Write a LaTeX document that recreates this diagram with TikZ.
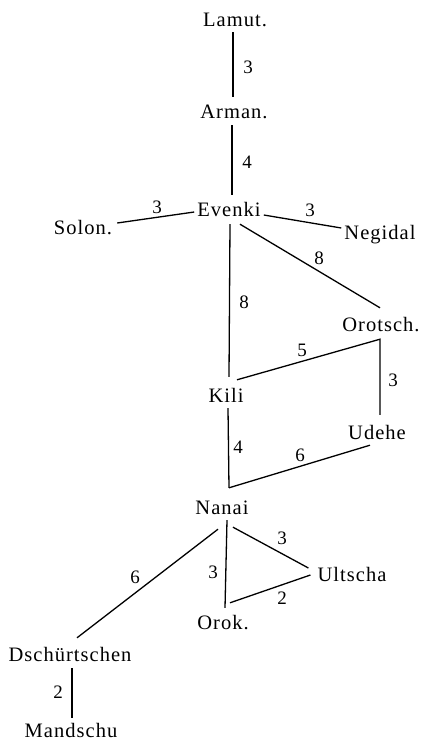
\documentclass[tikz,border=0pt]{standalone}
\usepackage{fontspec}
\setmainfont{Liberation Serif}[LetterSpace=5.0]
\begin{document}
\begin{tikzpicture}[x=1pt,y=-1pt,
  lang/.style={anchor=base,inner xsep=3pt,inner ysep=3pt,text height=14pt,text depth=0pt,font=\fontsize{20.5}{24}\selectfont},
  num/.style={inner sep=0pt,font=\fontsize{19}{22}\selectfont},
  edge/.style={line width=1.3pt,black}]
\useasboundingbox (0,0) rectangle (422,742);
% language nodes
\node[lang] (lamut) at (235,26) {Lamut.};
\node[lang] (arman) at (234,118) {Arman.};
\node[lang] (evenki) at (229,216) {Evenki};
\node[lang] (solon) at (83,234) {Solon.};
\node[lang] (negidal) at (380,239) {Negidal};
\node[lang] (orot) at (381,331) {Orotsch.};
\node[lang] (kili) at (226,402) {Kili};
\node[lang] (udehe) at (377,439) {Udehe};
\node[lang] (nanai) at (222,514) {Nanai};
\node[lang] (ultscha) at (352,581) {Ultscha};
\node[lang] (orok) at (223,629) {Orok.};
\node[lang] (dsch) at (70,661) {Dschürtschen};
\node[lang] (mand) at (71,737) {Mandschu};
% junction points
\coordinate (oc) at ([xshift=-1pt,yshift=-5pt]orot.south);
\coordinate (nc) at ([xshift=7pt,yshift=9pt]nanai.north);
% connectors
\draw[edge] ([xshift=-2pt,yshift=-3pt]lamut.south) -- ([xshift=-1pt,yshift=4pt]arman.north);
\draw[edge] ([xshift=-2pt,yshift=-4pt]arman.south) -- ([xshift=3pt,yshift=4pt]evenki.north);
\draw[edge] ([xshift=2pt,yshift=4pt]solon.east) -- ([yshift=-3pt]evenki.west);
\draw[edge] ([yshift=-6pt]evenki.east) -- ([yshift=4pt]negidal.west);
\draw[edge] ([xshift=11pt,yshift=-5pt]evenki.south) -- ([xshift=-1pt,yshift=6pt]orot.north);
\draw[edge] ([xshift=1pt,yshift=-5pt]evenki.south) -- ([xshift=3pt,yshift=8pt]kili.north);
\draw[edge] ([xshift=11pt,yshift=5pt]kili.north) -- (oc) -- ([xshift=3pt,yshift=7pt]udehe.north);
\draw[edge] ([xshift=2pt,yshift=-3pt]kili.south) -- (nc);
\draw[edge] ([xshift=-7pt,yshift=-3pt]udehe.south) -- (nc);
\draw[edge] ([xshift=5pt,yshift=-3pt]nanai.south) -- ([xshift=2pt,yshift=4pt]orok.north);
\draw[edge] ([xshift=11pt,yshift=-10pt]nanai.south) -- ([xshift=-6pt,yshift=6pt]ultscha.west);
\draw[edge] ([xshift=-4pt,yshift=-12pt]nanai.south) -- ([xshift=7pt,yshift=6pt]dsch.north);
\draw[edge] ([xshift=7pt,yshift=9pt]orok.north) -- ([xshift=-4pt,yshift=-1pt]ultscha.west);
\draw[edge] ([xshift=2pt,yshift=-4pt]dsch.south) -- ([xshift=1pt,yshift=2pt]mand.north);
% distance labels
\node[num] (n1) at (248,67) {3};
\node[num] (n2) at (247,162) {4};
\node[num] (n3) at (157,207) {3};
\node[num] (n4) at (310,210) {3};
\node[num] (n5) at (319,258) {8};
\node[num] (n6) at (244,302) {8};
\node[num] (n7) at (302,350) {5};
\node[num] (n8) at (393,380) {3};
\node[num] (n9) at (238,447) {4};
\node[num] (n10) at (300,455) {6};
\node[num] (n11) at (282,538) {3};
\node[num] (n12) at (213,572) {3};
\node[num] (n13) at (135,577) {6};
\node[num] (n14) at (282,598) {2};
\node[num] (n15) at (58,692) {2};
\end{tikzpicture}
\end{document}
